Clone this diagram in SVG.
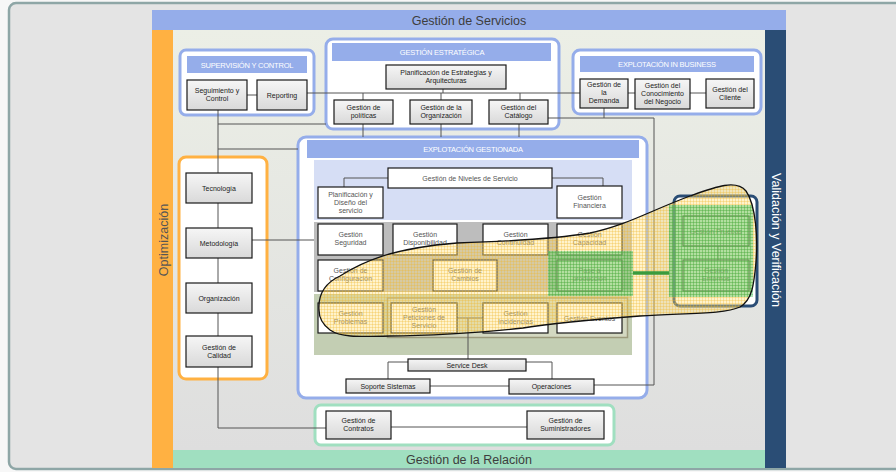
<svg xmlns="http://www.w3.org/2000/svg" width="896" height="472" viewBox="0 0 896 472">
  <defs>
    <style>
      .t { font-family: "Liberation Sans", Arial, sans-serif; font-size: 7px; fill: #222; text-anchor: middle; }
      .tg { fill: #555; }
      .ht { font-family: "Liberation Sans", Arial, sans-serif; font-size: 7.5px; fill: #fff; text-anchor: middle; letter-spacing: -0.2px; }
      .bar { font-family: "Liberation Sans", Arial, sans-serif; font-size: 12.5px; text-anchor: middle; }
      .box { fill: url(#gBox); stroke: #1a1a1a; stroke-width: 1.2; }
      .wbox { fill: #fff; stroke: #1a1a1a; stroke-width: 1.2; }
      .hdr { fill: #95adea; }
      .cont { fill: #fff; stroke-width: 3; }
      #connectors path { fill: none; stroke: #555; stroke-width: 1; }
    </style>
    <linearGradient id="gBox" x1="0" y1="0" x2="0" y2="1">
      <stop offset="0" stop-color="#f6f6f6"/>
      <stop offset="1" stop-color="#d9d9d9"/>
    </linearGradient>
    <linearGradient id="gBg" x1="0" y1="0" x2="0" y2="1">
      <stop offset="0" stop-color="#ecefe6"/>
      <stop offset="1" stop-color="#dedede"/>
    </linearGradient>
    <!-- translucent grid fills for the highlighted area -->
    <pattern id="hatchY" width="3" height="3" patternUnits="userSpaceOnUse">
      <rect width="3" height="3" fill="#ffe07a" fill-opacity="0.38"/>
      <path d="M0,0.5 H3 M0.5,0 V3" stroke="#f0b52a" stroke-opacity="0.38" stroke-width="0.8"/>
    </pattern>
    <pattern id="hatchG" width="3" height="3" patternUnits="userSpaceOnUse">
      <rect width="3" height="3" fill="#55c86a" fill-opacity="0.45"/>
      <path d="M0,0.5 H3 M0.5,0 V3" stroke="#26a845" stroke-opacity="0.4" stroke-width="0.8"/>
    </pattern>
  </defs>

  <!-- page and frame -->
  <rect width="896" height="472" fill="#f7f7f7"/>
  <rect x="9" y="3" width="900" height="466" rx="7" fill="#e4e4e4" stroke="#8ea6a6" stroke-width="2.5"/>

  <!-- bands -->
  <rect x="173" y="30" width="592" height="420" fill="url(#gBg)"/>
  <g id="band-servicios">
    <rect x="152" y="10" width="634" height="20" fill="#95adea"/>
    <text class="bar" x="469" y="24.5" fill="#3d3d3d">Gestión de Servicios</text>
  </g>
  <g id="band-optimizacion">
    <rect x="152" y="30" width="21" height="438" fill="#ffb142"/>
    <text class="bar" transform="translate(167.5,240) rotate(-90)" fill="#555">Optimización</text>
  </g>
  <g id="band-validacion">
    <rect x="765" y="30" width="21" height="438" fill="#2a4d75"/>
    <text class="bar" transform="translate(771.5,240) rotate(90)" fill="#fff">Validación y Verificación</text>
  </g>
  <g id="band-relacion">
    <rect x="173" y="450" width="592" height="18" fill="#a0dfc0"/>
    <text class="bar" x="469" y="463.5" fill="#3d3d3d">Gestión de la Relación</text>
  </g>

  <!-- containers -->
  <g id="supervision">
    <rect class="cont" x="180" y="50" width="134" height="65" rx="6" stroke="#95adea"/>
    <rect class="hdr" x="187" y="56" width="120" height="17"/>
    <text class="ht" x="247" y="67.5">SUPERVISIÓN Y CONTROL</text>
  </g>
  <g id="estrategica">
    <rect class="cont" x="326" y="39" width="233" height="90" rx="7" stroke="#95adea"/>
    <rect class="hdr" x="332" y="43" width="219" height="18"/>
    <text class="ht" x="442" y="55">GESTIÓN ESTRATÉGICA</text>
  </g>
  <g id="business">
    <rect class="cont" x="573" y="50" width="188" height="64" rx="7" stroke="#95adea"/>
    <rect class="hdr" x="580" y="56" width="174" height="16"/>
    <text class="ht" x="667" y="67">EXPLOTACIÓN IN BUSINESS</text>
  </g>
  <g id="gestionada">
    <rect class="cont" x="298" y="137" width="349" height="261" rx="8" stroke="#95adea"/>
    <rect class="hdr" x="307" y="140" width="332" height="18"/>
    <text class="ht" x="473" y="152">EXPLOTACIÓN GESTIONADA</text>
    <rect x="314" y="160" width="318" height="60" fill="#d6def5"/>
    <rect x="314" y="222" width="318" height="70" fill="#bdbdbd"/>
    <rect x="314" y="294" width="318" height="61" fill="#c3ceb3"/>
    <rect x="387.5" y="298" width="240" height="39.5" fill="#d3d8c1" stroke="#9c9a7c" stroke-width="1.5"/>
  </g>
  <g id="optimizacion">
    <rect class="cont" x="179" y="157" width="88" height="222" rx="7" stroke="#ffb142"/>
  </g>
  <g id="validacion">
    <rect class="cont" x="674" y="196" width="83" height="110" rx="6" stroke="#2a4d75"/>
  </g>
  <g id="relacion">
    <rect class="cont" x="315" y="405" width="299" height="40" rx="6" stroke="#a0dfc0"/>
  </g>

  <!-- connectors -->
  <g id="connectors">
    <path d="M247,95 H257"/>
    <path d="M307,93 H580"/>
    <path d="M443,89 V93 M363,93 V100 M441,93 V100 M520,93 V100"/>
    <path d="M628,93 H635 M690,93 H706"/>
    <path d="M218,110 V428 H326"/>
    <path d="M218,124 H326 M218,149 H298"/>
    <path d="M252,240 H314"/>
    <path d="M363,124 V137 M441,124 V137 M519,124 V137"/>
    <path d="M548,118 H654 V385 H594"/>
    <path d="M604,108 V118"/>
    <path d="M388,178 H344 V187 M552,178 H603 V186"/>
    <path d="M457,318 H483 M468,318 V359"/>
    <path d="M408,362 H388 V379 M526,362 H552 V379"/>
    <path d="M430,386 H509"/>
    <path d="M391,427 H527"/>
    <path d="M718,246 V260"/>
  </g>

  <!-- supervision nodes -->
  <g id="seguimiento"><rect class="box" x="187" y="80" width="60" height="30"/><text class="t" x="217" y="93">Seguimiento y</text><text class="t" x="217" y="101">Control</text></g>
  <g id="reporting"><rect class="box" x="257" y="80" width="50" height="30"/><text class="t" x="282" y="97.5">Reporting</text></g>

  <!-- strategic nodes -->
  <g id="planificacion-estrategias"><rect class="box" x="386" y="65" width="120" height="24"/><text class="t" x="446" y="75">Planificación de Estrategias y</text><text class="t" x="446" y="83">Arquitecturas</text></g>
  <g id="politicas"><rect class="box" x="334" y="100" width="59" height="24"/><text class="t" x="363.5" y="110">Gestión de</text><text class="t" x="363.5" y="118">políticas</text></g>
  <g id="organizacion-estr"><rect class="box" x="410" y="100" width="62" height="24"/><text class="t" x="441" y="110">Gestión de la</text><text class="t" x="441" y="118">Organización</text></g>
  <g id="catalogo"><rect class="box" x="489" y="100" width="59" height="24"/><text class="t" x="518.5" y="110">Gestión del</text><text class="t" x="518.5" y="118">Catálogo</text></g>

  <!-- business nodes -->
  <g id="demanda"><rect class="box" x="580" y="79" width="48" height="29"/><text class="t" x="604" y="87">Gestión de</text><text class="t" x="604" y="95">la</text><text class="t" x="604" y="103">Demanda</text></g>
  <g id="conocimiento"><rect class="box" x="635" y="79" width="55" height="30"/><text class="t" x="662.5" y="88">Gestión del</text><text class="t" x="662.5" y="96">Conocimiento</text><text class="t" x="662.5" y="104">del Negocio</text></g>
  <g id="cliente"><rect class="box" x="706" y="79" width="48" height="29"/><text class="t" x="730" y="92">Gestión del</text><text class="t" x="730" y="100">Cliente</text></g>

  <!-- optimisation nodes -->
  <g id="tecnologia"><rect class="box" x="186" y="173" width="66" height="30"/><text class="t" x="219" y="190.5">Tecnología</text></g>
  <g id="metodologia"><rect class="box" x="186" y="228" width="66" height="30"/><text class="t" x="219" y="245.5">Metodología</text></g>
  <g id="organizacion"><rect class="box" x="186" y="283" width="66" height="30"/><text class="t" x="219" y="300.5">Organización</text></g>
  <g id="calidad"><rect class="box" x="186" y="336" width="66" height="31"/><text class="t" x="219" y="350">Gestión de</text><text class="t" x="219" y="358">Calidad</text></g>

  <!-- managed operation nodes -->
  <g id="niveles"><rect class="wbox" x="388" y="168" width="164" height="20"/><text class="t tg" x="470" y="180.5">Gestión de Niveles de Servicio</text></g>
  <g id="diseno"><rect class="wbox" x="318" y="187" width="65" height="31"/><text class="t tg" x="350.5" y="197">Planificación y</text><text class="t tg" x="350.5" y="205">Diseño del</text><text class="t tg" x="350.5" y="213">servicio</text></g>
  <g id="financiera"><rect class="wbox" x="557" y="186" width="65" height="32"/><text class="t tg" x="589.5" y="200">Gestión</text><text class="t tg" x="589.5" y="208">Financiera</text></g>

  <g id="seguridad"><rect class="wbox" x="318" y="224" width="65" height="31"/><text class="t tg" x="350.5" y="237">Gestión</text><text class="t tg" x="350.5" y="245">Seguridad</text></g>
  <g id="disponibilidad"><rect class="wbox" x="393" y="224" width="64" height="31"/><text class="t tg" x="425" y="237">Gestión</text><text class="t tg" x="425" y="245">Disponibilidad</text></g>
  <g id="continuidad"><rect class="wbox" x="483" y="224" width="65" height="31"/><text class="t tg" x="515.5" y="237">Gestión</text><text class="t tg" x="515.5" y="245">Continuidad</text></g>
  <g id="capacidad"><rect class="wbox" x="557" y="224" width="65" height="31"/><text class="t tg" x="589.5" y="237">Gestión</text><text class="t tg" x="589.5" y="245">Capacidad</text></g>

  <g id="configuracion"><rect class="wbox" x="318" y="260" width="65" height="31"/><text class="t tg" x="350.5" y="273">Gestión de</text><text class="t tg" x="350.5" y="281">Configuración</text></g>
  <g id="cambios"><rect class="wbox" x="433" y="260" width="64" height="31"/><text class="t tg" x="465" y="273">Gestión de</text><text class="t tg" x="465" y="281">Cambios</text></g>
  <g id="pase"><rect class="wbox" x="557" y="260" width="65" height="31"/><text class="t tg" x="589.5" y="273">Pase a</text><text class="t tg" x="589.5" y="281">producción</text></g>

  <g id="problemas"><rect class="wbox" x="318" y="303" width="65" height="30"/><text class="t tg" x="350.5" y="316">Gestión</text><text class="t tg" x="350.5" y="324">Problemas</text></g>
  <g id="peticiones"><rect class="wbox" x="391" y="303" width="66" height="30"/><text class="t tg" x="424" y="311.5">Gestión</text><text class="t tg" x="424" y="319.5">Peticiones de</text><text class="t tg" x="424" y="327.5">Servicio</text></g>
  <g id="incidencias"><rect class="wbox" x="483" y="303" width="65" height="30"/><text class="t tg" x="515.5" y="316">Gestión</text><text class="t tg" x="515.5" y="324">Incidencias</text></g>
  <g id="eventos"><rect class="wbox" x="557" y="303" width="65" height="30"/><text class="t tg" x="589.5" y="320.5">Gestión Eventos</text></g>

  <g id="service-desk"><rect class="box" x="408" y="359" width="118" height="12"/><text class="t" x="467" y="367.5">Service Desk</text></g>
  <g id="soporte"><rect class="box" x="346" y="379" width="84" height="14"/><text class="t" x="388" y="388.5">Soporte Sistemas</text></g>
  <g id="operaciones"><rect class="box" x="509" y="379" width="85" height="15"/><text class="t" x="551.5" y="389">Operaciones</text></g>

  <!-- relationship nodes -->
  <g id="contratos"><rect class="box" x="326" y="411" width="65" height="28"/><text class="t" x="358.5" y="423">Gestión de</text><text class="t" x="358.5" y="431">Contratos</text></g>
  <g id="suministradores"><rect class="box" x="527" y="411" width="77" height="28"/><text class="t" x="565.5" y="423">Gestión de</text><text class="t" x="565.5" y="431">Suministradores</text></g>

  <!-- validation nodes -->
  <g id="pruebas"><rect class="wbox" x="683" y="216" width="66" height="30"/><text class="t tg" x="716" y="233.5">Gestión Pruebas</text></g>
  <g id="entornos"><rect class="wbox" x="683" y="260" width="66" height="31"/><text class="t tg" x="716" y="273">Gestión</text><text class="t tg" x="716" y="281">Entornos</text></g>

  <!-- highlighted release path -->
  <g id="release-area">
    <path d="M319,310 C318,295 325,283 340,276 C362,262 392,248 457,243 C520,241 560,238 590,233 C625,226 652,210 690,196 C715,187 736,179 746,191 C756,205 758,240 756,262 C754,285 752,300 740,307 C725,314 690,313 640,316 C600,319 560,322 523,328 C480,333 420,336 390,336 C355,337 340,337 330,330 C322,324 319,318 319,310 Z" fill="url(#hatchY)"/>
    <rect x="548" y="251" width="85" height="45" fill="url(#hatchG)"/>
    <rect x="669" y="205" width="84" height="92" fill="url(#hatchG)"/>
    <path d="M633,273 H669" stroke="#3a9b3c" stroke-width="3.5" fill="none"/>
    <path d="M319,310 C318,295 325,283 340,276 C362,262 392,248 457,243 C520,241 560,238 590,233 C625,226 652,210 690,196 C715,187 736,179 746,191 C756,205 758,240 756,262 C754,285 752,300 740,307 C725,314 690,313 640,316 C600,319 560,322 523,328 C480,333 420,336 390,336 C355,337 340,337 330,330 C322,324 319,318 319,310 Z" fill="none" stroke="#111" stroke-width="1.3"/>
  </g>
</svg>
